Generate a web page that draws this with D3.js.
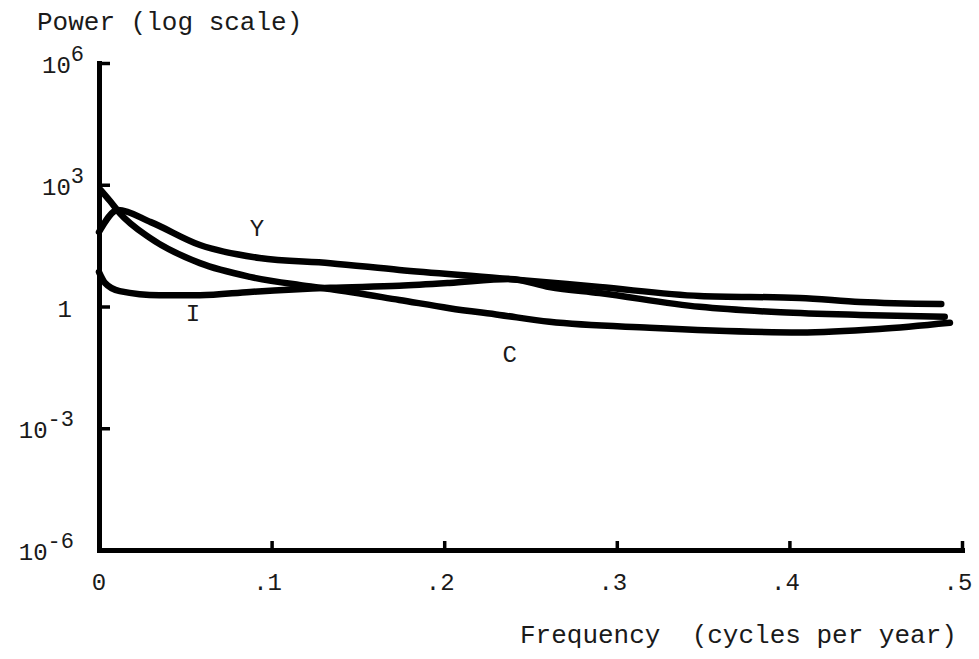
<!DOCTYPE html>
<html>
<head>
<meta charset="utf-8">
<script src="https://cdn.jsdelivr.net/npm/d3@7"></script>
<style>
body { margin: 0; background: #fff; }
text { font-family: "Liberation Mono", "DejaVu Sans Mono", monospace; fill: #1a1a1a; }
</style>
</head>
<body>
<div id="chart"></div>
<script>

// spectra (frequency in cycles per year, power)
let freqY  = [0, 0.011, 0.03, 0.0585, 0.093, 0.134, 0.174, 0.232, 0.29, 0.348, 0.406, 0.441, 0.488];
let powerY = [68.5, 239, 120, 32.7, 15.7, 11.7, 7.94, 5.0, 3.02, 1.82, 1.62, 1.29, 1.15];

let freqI  = [0, 0.0035, 0.012, 0.035, 0.0585, 0.0875, 0.134, 0.174, 0.203, 0.238, 0.261, 0.29, 0.348, 0.395, 0.441, 0.49];
let powerI = [7.08, 3.8, 2.4, 1.9, 1.9, 2.29, 2.88, 3.24, 3.8, 4.79, 3.02, 2.14, 0.98, 0.72, 0.62, 0.56];

let freqC  = [0.001, 0.0064, 0.012, 0.0295, 0.0585, 0.0875, 0.116, 0.134, 0.174, 0.203, 0.232, 0.261, 0.319, 0.406, 0.452, 0.493];
let powerC = [741, 398, 200, 49, 11.7, 5.37, 3.39, 2.69, 1.45, 0.91, 0.62, 0.42, 0.30, 0.23, 0.28, 0.40];

let seriesNames = ["Y", "I", "C"];
let labelFreq   = [0.0915, 0.0545, 0.238];
let labelPower  = [86, 0.69, 0.068];

let xTicks = [0.1, 0.2, 0.3, 0.4, 0.5];
let xTickLabels = ["0", ".1", ".2", ".3", ".4", ".5"];
let yTickExps = [6, 3, 0, -3, -6];

let width = 979;
let height = 659;

let svg = d3.select("#chart")
	.append("svg")
	.attr("width", width)
	.attr("height", height);

let x = d3.scaleLinear()
	.domain([0, 0.5])
	.range([99, 962]);

let y = d3.scaleLog()
	.domain([1e-6, 1e6])
	.range([550, 63]);

// axes: ticks point into the plot, no labels from d3
let xAxis = svg.append("g")
	.attr("transform", "translate(0,550)")
	.call(d3.axisBottom(x).tickValues(xTicks).tickSize(-9).tickSizeOuter(0).tickFormat(""));

let yAxis = svg.append("g")
	.attr("transform", "translate(99,0)")
	.call(d3.axisLeft(y).tickValues([1e6, 1e3, 1, 1e-3]).tickSize(-11).tickSizeOuter(0).tickFormat(""));

svg.selectAll(".domain")
	.attr("stroke", "#000")
	.attr("stroke-width", 5)
	.attr("stroke-linecap", "square");

svg.selectAll(".tick line")
	.attr("stroke", "#000")
	.attr("stroke-width", 3.5);

// y tick labels with superscripts
yTickExps.forEach(function(e) {
	let t = svg.append("text")
		.attr("x", e < 0 ? 74 : 84)
		.attr("y", y(Math.pow(10, e)) + 10)
		.attr("text-anchor", "end")
		.style("font-size", "24px");
	if (e == 0) {
		t.attr("x", 72).text("1");
	} else {
		t.append("tspan").text("10");
		t.append("tspan")
			.attr("dy", -12)
			.style("font-size", "22px")
			.text(e < 0 ? "-" + (-e) : "" + e);
	}
});

// x tick labels
svg.selectAll(".xlabel")
	.data([0].concat(xTicks))
	.enter().append("text")
	.attr("class", "xlabel")
	.attr("x", (d, i) => x(d) - (i == 0 ? 0 : 4))
	.attr("y", 590)
	.attr("text-anchor", "middle")
	.style("font-size", "24px")
	.text((d, i) => xTickLabels[i]);

// axis titles
svg.append("text")
	.attr("x", 37)
	.attr("y", 30)
	.style("font-size", "26px")
	.text("Power (log scale)");

svg.append("text")
	.attr("x", 520)
	.attr("y", 643)
	.style("font-size", "26px")
	.attr("xml:space", "preserve")
	.text("Frequency  (cycles per year)");

// curves
let line = d3.line()
	.x(d => x(d[0]))
	.y(d => y(d[1]))
	.curve(d3.curveMonotoneX);

let series = [
	d3.zip(freqY, powerY),
	d3.zip(freqI, powerI),
	d3.zip(freqC, powerC)
];

svg.append("g")
	.selectAll("path")
	.data(series)
	.enter().append("path")
	.attr("d", line)
	.attr("fill", "none")
	.attr("stroke", "#000")
	.attr("stroke-width", 6.5)
	.attr("stroke-linecap", "round")
	.attr("stroke-linejoin", "round");

svg.selectAll(".slabel")
	.data(seriesNames)
	.enter().append("text")
	.attr("class", "slabel")
	.attr("x", (d, i) => x(labelFreq[i]))
	.attr("y", (d, i) => y(labelPower[i]))
	.attr("dy", "0.35em")
	.attr("text-anchor", "middle")
	.style("font-size", "24px")
	.text(d => d);

</script>
</body>
</html>
